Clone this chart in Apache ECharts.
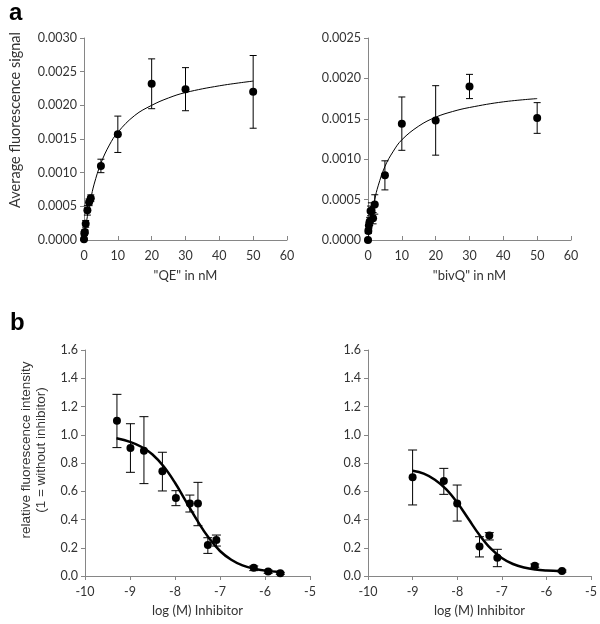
<!DOCTYPE html>
<html>
<head>
<meta charset="utf-8">
<script src="https://cdn.jsdelivr.net/npm/echarts@6/dist/echarts.min.js"></script>
<style>html,body{margin:0;padding:0;background:#fff}#c{width:600px;height:624px}</style>
</head>
<body>
<div id="c"></div>
<script>
// Panel a, left: "QE"
var qeX   = [0, 0.1, 0.25, 0.5, 1, 1.5, 2, 5, 10, 20, 30, 50];
var qeY   = [0.00001, 0.0001, 0.00012, 0.00024, 0.00044, 0.00056, 0.00062, 0.0011, 0.00157, 0.00232, 0.00224, 0.0022];
var qeErr = [0.00001, 0.00003, 0.00003, 0.00005, 0.00007, 0.00005, 0.00005, 0.0001, 0.00027, 0.00037, 0.00032, 0.00054];
var qeFitX = [0, 0.5, 1, 2, 3, 5, 7.5, 10, 15, 20, 25, 30, 40, 50];
var qeFitY = [0, 0.000185, 0.00035, 0.00061, 0.00083, 0.00114, 0.00141, 0.0016, 0.00185, 0.002, 0.00211, 0.00219, 0.00229, 0.00236];

// Panel a, right: "bivQ"
var bivX   = [0, 0.1, 0.25, 0.5, 0.75, 1, 1.5, 2, 5, 10, 20, 30, 50];
var bivY   = [0, 0.00011, 0.00018, 0.00023, 0.00036, 0.00036, 0.00027, 0.00044, 0.0008, 0.00144, 0.00148, 0.0019, 0.00151];
var bivErr = [0.00001, 0.00003, 0.00004, 0.00005, 0.00006, 0.0001, 0.00007, 0.00012, 0.00018, 0.00033, 0.00043, 0.00015, 0.00019];
var bivFitX = [0, 0.5, 1, 2, 3, 5, 7.5, 10, 15, 20, 25, 30, 40, 50];
var bivFitY = [0, 0.000157, 0.00029, 0.000504, 0.00067, 0.00091, 0.0011, 0.00124, 0.00141, 0.00152, 0.00159, 0.00164, 0.00171, 0.00175];

// Panel b, left
var inhAX  = [-9.29, -8.99, -8.69, -8.28, -7.98, -7.67, -7.49, -7.27, -7.08, -6.25, -5.93, -5.66];
var inhAY  = [1.10, 0.906, 0.887, 0.741, 0.552, 0.514, 0.514, 0.219, 0.255, 0.059, 0.031, 0.019];
var inhALo = [0.909, 0.734, 0.654, 0.602, 0.498, 0.453, 0.356, 0.16, 0.212, 0.038, 0.019, 0.012];
var inhAHi = [1.286, 1.078, 1.128, 0.876, 0.604, 0.573, 0.663, 0.271, 0.29, 0.071, 0.042, 0.026];
var inhAFitX = [-9.3, -9.0, -8.75, -8.5, -8.25, -8.0, -7.75, -7.5, -7.25, -7.0, -6.75, -6.5, -6.25, -6.0, -5.66];
var inhAFitY = [0.975, 0.95, 0.915, 0.86, 0.775, 0.66, 0.525, 0.39, 0.27, 0.177, 0.115, 0.075, 0.052, 0.038, 0.029];

// Panel b, right
var inhBX  = [-9.0, -8.3, -8.0, -7.5, -7.28, -7.1, -6.26, -5.65];
var inhBY  = [0.699, 0.673, 0.514, 0.208, 0.286, 0.13, 0.073, 0.035];
var inhBLo = [0.503, 0.578, 0.389, 0.135, 0.255, 0.066, 0.062, 0.028];
var inhBHi = [0.892, 0.762, 0.644, 0.278, 0.307, 0.189, 0.085, 0.042];
var inhBFitX = [-9.0, -8.75, -8.5, -8.25, -8.0, -7.75, -7.5, -7.25, -7.0, -6.75, -6.5, -6.25, -6.0, -5.65];
var inhBFitY = [0.745, 0.725, 0.682, 0.615, 0.52, 0.405, 0.29, 0.195, 0.128, 0.085, 0.06, 0.046, 0.039, 0.034];

var labelsA = ['"QE" in nM', '"bivQ" in nM'];
var labelB = 'log (M) Inhibitor';

function pairs(xs, ys) { return xs.map(function (x, i) { return [x, ys[i]]; }); }
function errSym(xs, ys, e) { return xs.map(function (x, i) { return [x, ys[i] - e[i], ys[i] + e[i]]; }); }
function errLH(xs, lo, hi) { return xs.map(function (x, i) { return [x, lo[i], hi[i]]; }); }

var AX = '#868686', TX = '#333', FONT = 'Lato';

function errSeries(idx, data, w) {
  return {
    type: 'custom', xAxisIndex: idx, yAxisIndex: idx, data: data, z: 3,
    renderItem: function (params, api) {
      var x = api.value(0);
      var p1 = api.coord([x, api.value(2)]);
      var p2 = api.coord([x, api.value(1)]);
      var st = { stroke: '#000', lineWidth: 1 };
      return { type: 'group', children: [
        { type: 'line', shape: { x1: p1[0], y1: p1[1], x2: p2[0], y2: p2[1] }, style: st },
        { type: 'line', shape: { x1: p1[0] - w, y1: p1[1], x2: p1[0] + w, y2: p1[1] }, style: st },
        { type: 'line', shape: { x1: p2[0] - w, y1: p2[1], x2: p2[0] + w, y2: p2[1] }, style: st }
      ]};
    }
  };
}
function dots(idx, data) {
  return { type: 'scatter', xAxisIndex: idx, yAxisIndex: idx, data: data, symbol: 'circle', symbolSize: 8,
    itemStyle: { color: '#000', opacity: 1 }, z: 4 };
}
function fit(idx, data, w) {
  return { type: 'line', xAxisIndex: idx, yAxisIndex: idx, data: data, smooth: 0.4, showSymbol: false,
    lineStyle: { color: '#000', width: w }, z: 2 };
}

function xAx(idx, min, max, interval, name, inside, gap) {
  return { gridIndex: idx, type: 'value', min: min, max: max, interval: interval,
    name: name, nameLocation: 'middle', nameGap: gap,
    nameTextStyle: { fontFamily: FONT, fontSize: 13, color: TX },
    axisLine: { show: true, lineStyle: { color: AX } },
    axisTick: { show: true, inside: inside, length: 4, lineStyle: { color: AX } },
    axisLabel: { fontFamily: FONT, fontSize: 12.5, color: TX, margin: 9 },
    splitLine: { show: false } };
}
function yAx(idx, min, max, interval, dec) {
  return { gridIndex: idx, type: 'value', min: min, max: max, interval: interval,
    axisLine: { show: true, lineStyle: { color: AX } },
    axisTick: { show: true, inside: false, length: 4, lineStyle: { color: AX } },
    axisLabel: { fontFamily: FONT, fontSize: 12.5, color: TX, margin: 7,
      formatter: function (v) { return v.toFixed(dec); } },
    splitLine: { show: false } };
}

var option = {
  animation: false,
  backgroundColor: '#fff',
  grid: [
    { left: 84, top: 38, width: 203, height: 202 },
    { left: 368, top: 38, width: 203, height: 202 },
    { left: 85, top: 350, width: 225, height: 226 },
    { left: 368, top: 350, width: 223, height: 226 }
  ],
  xAxis: [
    xAx(0, 0, 60, 10, labelsA[0], true, 29),
    xAx(1, 0, 60, 10, labelsA[1], true, 29),
    xAx(2, -10, -5, 1, labelB, false, 28),
    xAx(3, -10, -5, 1, labelB, false, 28)
  ],
  yAxis: [
    yAx(0, 0, 0.003, 0.0005, 4),
    yAx(1, 0, 0.0025, 0.0005, 4),
    yAx(2, 0, 1.6, 0.2, 1),
    yAx(3, 0, 1.6, 0.2, 1)
  ],
  graphic: [
    { type: 'text', left: 9, top: 1, style: { text: 'a', font: 'bold 24px "Liberation Sans"', fill: '#000' } },
    { type: 'text', left: 10, top: 311, style: { text: 'b', font: 'bold 24px "Liberation Sans"', fill: '#000' } },
    { type: 'text', x: 15, y: 120, rotation: Math.PI / 2,
      style: { text: 'Average fluorescence signal', font: '14.5px Lato', fill: TX, textAlign: 'center', textVerticalAlign: 'middle' } },
    { type: 'text', x: 34, y: 450, rotation: Math.PI / 2,
      style: { text: 'relative fluorescence intensity\n(1 = without inhibitor)', font: '13.5px "Liberation Sans"', lineHeight: 15,
        fill: TX, textAlign: 'center', textVerticalAlign: 'middle' } }
  ],
  series: [
    fit(0, pairs(qeFitX, qeFitY), 1),
    errSeries(0, errSym(qeX, qeY, qeErr), 3.5),
    dots(0, pairs(qeX, qeY)),
    fit(1, pairs(bivFitX, bivFitY), 1),
    errSeries(1, errSym(bivX, bivY, bivErr), 3.5),
    dots(1, pairs(bivX, bivY)),
    fit(2, pairs(inhAFitX, inhAFitY), 2.5),
    errSeries(2, errLH(inhAX, inhALo, inhAHi), 4.5),
    dots(2, pairs(inhAX, inhAY)),
    fit(3, pairs(inhBFitX, inhBFitY), 2.5),
    errSeries(3, errLH(inhBX, inhBLo, inhBHi), 4.5),
    dots(3, pairs(inhBX, inhBY))
  ]
};
echarts.init(document.getElementById('c')).setOption(option);
</script>
</body>
</html>
